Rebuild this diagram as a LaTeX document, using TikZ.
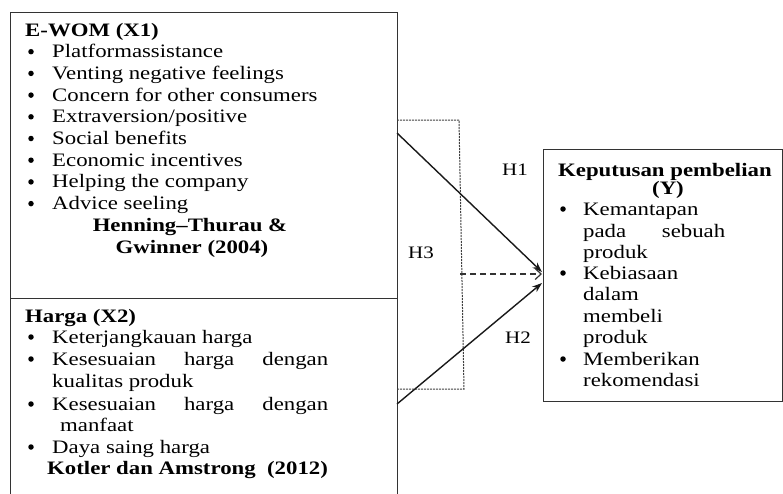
\documentclass[tikz,border=0pt]{standalone}
\usepackage{fontspec}
\setmainfont{Liberation Serif}[FakeStretch=1.2]
\usetikzlibrary{arrows.meta}
\tikzset{
  txt/.style={anchor=base west, inner sep=0pt, font=\fontsize{19}{22}\selectfont, text=black},
  ctxt/.style={txt, anchor=base},
  hlab/.style={inner sep=0pt, font=\fontsize{17.5}{20}\selectfont, text=black},
  bul/.style={circle, fill=black, inner sep=0pt, minimum size=5.5pt},
  boxline/.style={draw=black!80, line width=1.2pt},
  dotbox/.style={draw=black!75, line width=1pt, dash pattern=on 2pt off 1pt},
  solidarrow/.style={draw=black!90, line width=1.4pt, -{Stealth[length=10pt,width=7pt]}},
  dasharrow/.style={draw=black!80, line width=1.2pt, dash pattern=on 6pt off 4pt, -{Straight Barb[length=6pt,width=11pt]}}
}
\begin{document}
\begin{tikzpicture}[x=1pt,y=-1pt]
\clip (0,0) rectangle (783,493);
\useasboundingbox (0,0) rectangle (783,493);
% boxes
\node[boxline, anchor=north west, minimum width=387pt, minimum height=286pt, inner sep=0pt] (ewom) at (10,12) {};
\node[boxline, anchor=north west, minimum width=387pt, minimum height=230pt, inner sep=0pt] (harga) at (10,298) {};
\node[boxline, anchor=north west, minimum width=238.5pt, minimum height=252pt, inner sep=0pt] (ybox) at (543,149) {};
% dotted box for H3
\draw[dotbox] (397,120) -- (459,120) -- (464,389) -- (397,389);
% connector coordinates
\coordinate (h1s) at (397,133);
\coordinate (h2s) at (397,404);
\coordinate (h3s) at (460,274);
\coordinate (h1e) at (542,272);
\coordinate (h2e) at (542,283);
\coordinate (h3e) at (542,274);
\draw[solidarrow] (h1s) -- (h1e);
\draw[solidarrow] (h2s) -- (h2e);
\draw[dasharrow] (h3s) -- (h3e);
% hypothesis labels
\node[hlab] (lh1) at (515,170) {H1};
\node[hlab] (lh3) at (421,253) {H3};
\node[hlab] (lh2) at (518,338) {H2};
% E-WOM text
\node[txt] (t1) at (25,36) {\bfseries E-WOM (X1)};
\foreach \yy/\tt [count=\i] in {57.7/Platformassistance, 79.4/Venting negative feelings, 101.1/Concern for other consumers, 122.8/Extraversion\slash positive, 144.5/Social benefits, 166.2/Economic incentives, 187.9/Helping the company, 209.6/Advice seeling}{
  \node[bul] (eb\i) at (31,\yy-6) {};
  \node[txt] (et\i) at (52,\yy) {\tt};
}
\node[ctxt] (ref1a) at (190,231.3) {\bfseries Henning–Thurau \&};
\node[ctxt] (ref1b) at (192,253) {\bfseries Gwinner (2004)};
% Harga text
\node[txt] (h0) at (25,322) {\bfseries Harga (X2)};
\node[bul] (hb1) at (31,337) {};
\node[txt] (ht1) at (52,343) {Keterjangkauan harga};
\node[bul] (hb2) at (31,359) {};
\node[txt] (ht2) at (52,365) {\makebox[276pt][s]{Kesesuaian harga dengan}};
\node[txt] (ht2b) at (52,387) {kualitas produk};
\node[bul] (hb3) at (31,404) {};
\node[txt] (ht3) at (52,410) {\makebox[276pt][s]{Kesesuaian harga dengan}};
\node[txt] (ht3b) at (60,431) {manfaat};
\node[bul] (hb4) at (31,447) {};
\node[txt] (ht4) at (52,453) {Daya saing harga};
\node[txt] (ref2) at (47,474) {\bfseries Kotler dan Amstrong\ \ (2012)};
% Y text
\node[txt] (y0) at (558,176) {\bfseries Keputusan pembelian};
\node[ctxt] (y0b) at (668,194) {\bfseries (Y)};
\node[bul] (yb1) at (563,209) {};
\node[txt] (yt1) at (583,215) {Kemantapan};
\node[txt] (yt1b) at (583,237) {\makebox[142pt][s]{pada sebuah}};
\node[txt] (yt1c) at (583,258) {produk};
\node[bul] (yb2) at (563,273) {};
\node[txt] (yt2) at (583,279) {Kebiasaan};
\node[txt] (yt2b) at (583,300) {dalam};
\node[txt] (yt2c) at (583,322) {membeli};
\node[txt] (yt2d) at (583,343) {produk};
\node[bul] (yb3) at (563,359) {};
\node[txt] (yt3) at (583,365) {Memberikan};
\node[txt] (yt3b) at (583,386) {rekomendasi};
\end{tikzpicture}
\end{document}
